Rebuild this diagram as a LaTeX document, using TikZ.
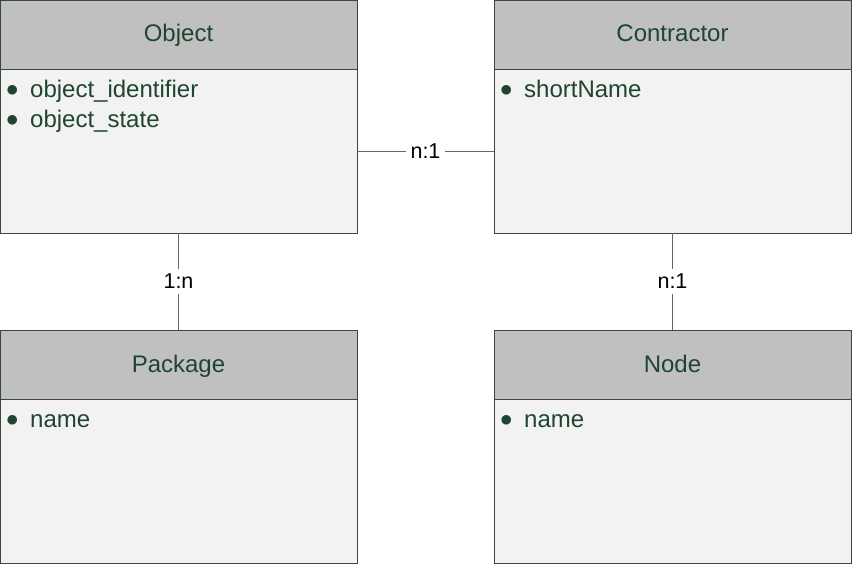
\documentclass[tikz,border=0pt]{standalone}
\usepackage{fontspec}
\setmainfont{Liberation Sans}
\usetikzlibrary{positioning}
\definecolor{umlHead}{HTML}{C0C0C0}
\definecolor{umlBody}{HTML}{F2F2F2}
\definecolor{umlLine}{HTML}{344A3E}
\definecolor{umlText}{HTML}{1F4530}
\definecolor{linkGray}{HTML}{5F6B64}
\newcommand{\umlattr}[1]{\makebox[24pt][l]{\raisebox{1pt}{$\bullet$}}\vphantom{b}#1}
\tikzset{
  headBox/.style={rectangle, draw=umlLine, fill=umlHead, text=umlText,
                  minimum width=357pt, minimum height=69pt, inner sep=0pt,
                  outer sep=0pt, text height=17pt, text depth=2pt,
                  font=\fontsize{24}{28}\selectfont, line width=0.9pt},
  bodyBox/.style={rectangle, draw=umlLine, fill=umlBody, minimum width=357pt,
                  minimum height=164pt, inner sep=0pt, outer sep=0pt,
                  line width=0.9pt},
  attrList/.style={anchor=north west, align=left, inner sep=0pt, text=umlText,
                   font=\fontsize{24}{29.5}\selectfont},
  link/.style={draw=linkGray, line width=0.9pt},
  linkLabel/.style={fill=white, inner sep=5pt, text=black,
                    font=\fontsize{21.5}{26}\selectfont},
}

\begin{document}
\begin{tikzpicture}[node distance=0pt and 137pt]
    \useasboundingbox (0,0) rectangle (852pt,-564pt);
    % classes
    \node[headBox, anchor=north west] (obj) at (0,0) {Object};
    \node[bodyBox, below=of obj] (objBody) {};
    \node[headBox, right=of obj] (con) {Contractor};
    \node[bodyBox, below=of con] (conBody) {};
    \node[headBox, below=97pt of objBody] (pkg) {Package};
    \node[bodyBox, below=of pkg] (pkgBody) {};
    \node[headBox, below=97pt of conBody] (nd) {Node};
    \node[bodyBox, below=of nd] (ndBody) {};
    % attributes
    \node[attrList] (objAttr) at ([shift={(6pt,-11pt)}]objBody.north west)
      {\umlattr{object\_identifier}\\ \umlattr{object\_state}};
    \node[attrList] (conAttr) at ([shift={(6pt,-11pt)}]conBody.north west)
      {\umlattr{shortName}};
    \node[attrList] (pkgAttr) at ([shift={(6pt,-11pt)}]pkgBody.north west)
      {\umlattr{name}};
    \node[attrList] (ndAttr) at ([shift={(6pt,-11pt)}]ndBody.north west)
      {\umlattr{name}};
    % relations
    \draw[link] (objBody) -- (conBody) node[midway, linkLabel] {n:1};
    \draw[link] (objBody) -- (pkg) node[midway, linkLabel] {1:n};
    \draw[link] (conBody) -- (nd) node[midway, linkLabel] {n:1};
\end{tikzpicture}
\end{document}
